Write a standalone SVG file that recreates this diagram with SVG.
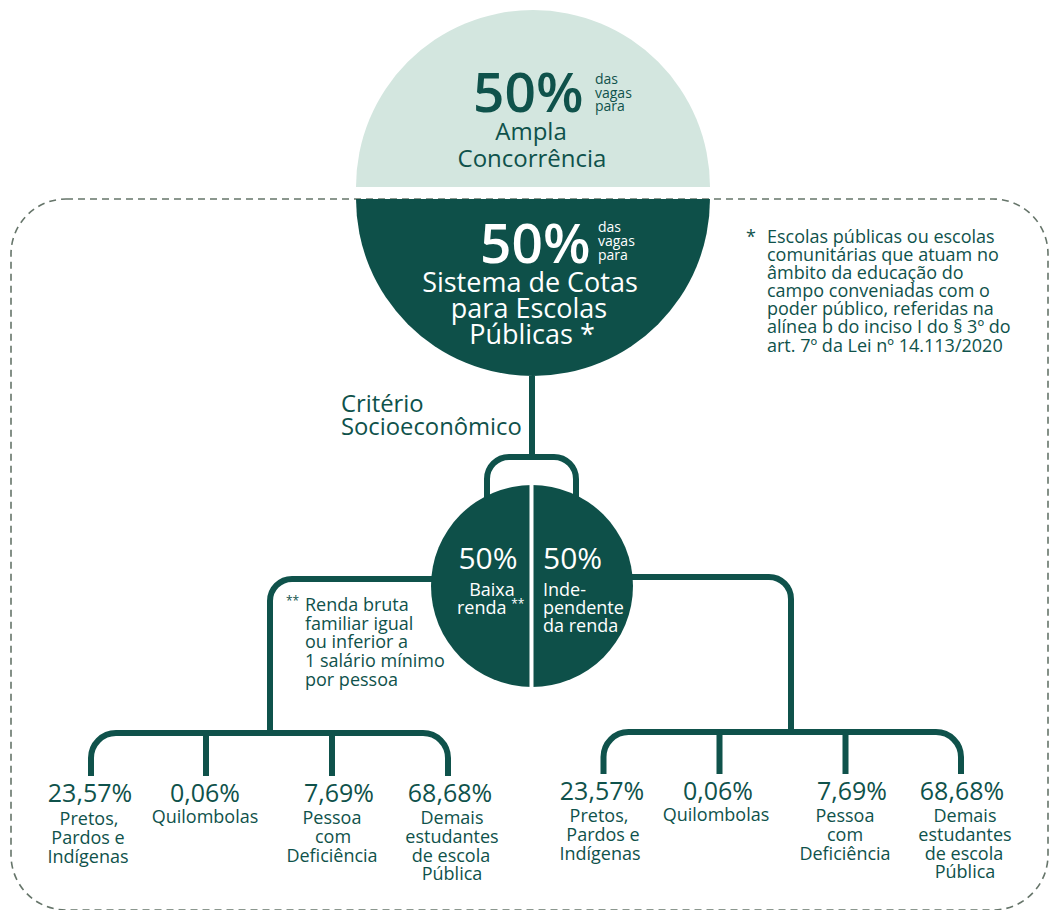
<svg xmlns="http://www.w3.org/2000/svg" width="1049" height="910" viewBox="0 0 1049 910">
<style>
text{font-family:"Open Sans","Noto Sans","Liberation Sans",sans-serif;fill:#0f524b}
.w{fill:#ffffff}
.big{font-size:55px;font-weight:600}
.sm{font-size:14px}
.mid{text-anchor:middle}
.t{font-weight:500}
.ln{fill:none;stroke:#0f524b;stroke-width:6}
.pct{font-size:25px;text-anchor:middle}
.lb{font-size:18px;text-anchor:middle}
.fn{font-size:18px}
</style>
<rect x="11" y="199" width="1037" height="711" rx="55" ry="55" fill="none" stroke="#66756a" stroke-width="1.6" stroke-dasharray="7 5"/>
<g id="ampla">
<path d="M356,187 A177,177 0 0 1 710,187 Z" fill="#d3e6df"/>
<text class="big" x="473" y="112">50%</text>
<text class="sm" x="595" y="84">das</text>
<text class="sm" x="595" y="98">vagas</text>
<text class="sm" x="595" y="111">para</text>
<text class="mid t" x="531" y="140" font-size="24">Ampla</text>
<text class="mid t" x="532" y="167" font-size="24">Concorrência</text>
</g>
<g id="cotas">
<path d="M356,199 A177,177 0 0 0 710,199 Z" fill="#0e5049"/>
<text class="big w" x="480" y="263">50%</text>
<text class="sm w" x="598" y="232">das</text>
<text class="sm w" x="598" y="246">vagas</text>
<text class="sm w" x="598" y="260">para</text>
<text class="mid w t" x="530" y="292" font-size="27">Sistema de Cotas</text>
<text class="mid w t" x="529" y="318" font-size="27">para Escolas</text>
<text class="mid w t" x="532" y="344" font-size="27">Públicas *</text>
</g>
<g id="nota1">
<text class="fn" x="746" y="243">*</text>
<text class="fn" x="767" y="243">Escolas públicas ou escolas</text>
<text class="fn" x="767" y="261">comunitárias que atuam no</text>
<text class="fn" x="767" y="279">âmbito da educação do</text>
<text class="fn" x="767" y="297">campo conveniadas com o</text>
<text class="fn" x="767" y="315">poder público, referidas na</text>
<text class="fn" x="767" y="333">alínea b do inciso I do § 3º do</text>
<text class="fn" x="767" y="352">art. 7º da Lei nº 14.113/2020</text>
</g>
<g id="criterio">
<text x="341" y="412" font-size="23.8">Critério</text>
<text x="341" y="435" font-size="23.8">Socioeconômico</text>
</g>
<g id="connectors">
<path class="ln" d="M532,376 V457" stroke-width="5"/>
<path class="ln" d="M487,505 V479 A22,22 0 0 1 509,457 H554 A22,22 0 0 1 576,479 V505" stroke-width="7"/>
<path class="ln" d="M440,579 H292 A22,22 0 0 0 270,601 V733"/>
<path class="ln" d="M625,577 H769 A22,22 0 0 1 791,599 V732"/>
<path class="ln" d="M91,776 V758 A25,25 0 0 1 116,733 H423 A25,25 0 0 1 448,758 V776"/>
<path class="ln" d="M206,733 V776 M332,733 V776"/>
<path class="ln" d="M603.5,774 V757 A25,25 0 0 1 628.5,732 H936 A25,25 0 0 1 961,757 V774"/>
<path class="ln" d="M719.5,732 V774 M845.5,732 V774"/>
</g>
<g id="renda">
<circle cx="532" cy="586" r="101" fill="#0e5049"/>
<line x1="531.5" y1="480" x2="531.5" y2="690" stroke="#ffffff" stroke-width="4"/>
<text class="w mid" x="488" y="569" font-size="30">50%</text>
<text class="w mid" x="492" y="596" font-size="18">Baixa</text>
<text class="w" x="457" y="614" font-size="18">renda <tspan font-size="12" dy="-6">**</tspan></text>
<text class="w" x="543" y="569" font-size="30">50%</text>
<text class="w" x="543" y="596" font-size="18">Inde-</text>
<text class="w" x="543" y="614" font-size="18">pendente</text>
<text class="w" x="543" y="632" font-size="18">da renda</text>
</g>
<g id="nota2">
<text x="286" y="605" font-size="12">**</text>
<text class="fn" x="305" y="611">Renda bruta</text>
<text class="fn" x="305" y="630">familiar igual</text>
<text class="fn" x="305" y="648">ou inferior a</text>
<text class="fn" x="305" y="667">1 salário mínimo</text>
<text class="fn" x="305" y="686">por pessoa</text>
</g>
<g id="l1">
<text class="pct" x="90" y="802">23,57%</text>
<text class="lb" x="89" y="825">Pretos,</text>
<text class="lb" x="88" y="844">Pardos e</text>
<text class="lb" x="88" y="863">Indígenas</text>
</g>
<g id="l2">
<text class="pct" x="205" y="802">0,06%</text>
<text class="lb" x="205" y="823">Quilombolas</text>
</g>
<g id="l3">
<text class="pct" x="339" y="802">7,69%</text>
<text class="lb" x="332" y="824">Pessoa</text>
<text class="lb" x="333" y="843">com</text>
<text class="lb" x="332" y="862">Deficiência</text>
</g>
<g id="l4">
<text class="pct" x="450" y="802">68,68%</text>
<text class="lb" x="452" y="824">Demais</text>
<text class="lb" x="452" y="843">estudantes</text>
<text class="lb" x="451" y="862">de escola</text>
<text class="lb" x="452" y="880">Pública</text>
</g>
<g id="r1">
<text class="pct" x="602" y="800">23,57%</text>
<text class="lb" x="599" y="822">Pretos,</text>
<text class="lb" x="603" y="841">Pardos e</text>
<text class="lb" x="600" y="860">Indígenas</text>
</g>
<g id="r2">
<text class="pct" x="718" y="800">0,06%</text>
<text class="lb" x="716" y="821">Quilombolas</text>
</g>
<g id="r3">
<text class="pct" x="852" y="800">7,69%</text>
<text class="lb" x="845" y="822">Pessoa</text>
<text class="lb" x="845" y="841">com</text>
<text class="lb" x="845" y="860">Deficiência</text>
</g>
<g id="r4">
<text class="pct" x="962" y="800">68,68%</text>
<text class="lb" x="965" y="822">Demais</text>
<text class="lb" x="965" y="841">estudantes</text>
<text class="lb" x="964" y="860">de escola</text>
<text class="lb" x="965" y="878">Pública</text>
</g>
</svg>
